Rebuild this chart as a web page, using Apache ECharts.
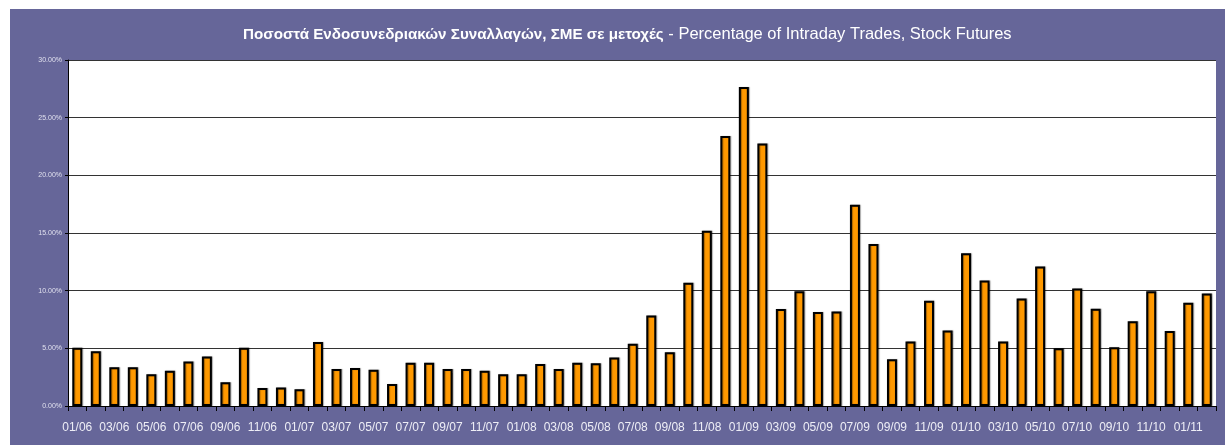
<!DOCTYPE html>
<html><head><meta charset="utf-8">
<script src="https://cdn.jsdelivr.net/npm/echarts@6/dist/echarts.min.js"></script>
<style>html,body{margin:0;padding:0;background:#fff}#c{width:1225px;height:445px}</style>
</head><body><div id="c"></div>
<script>
const categories = [
 "01/06","02/06","03/06","04/06","05/06","06/06","07/06","08/06","09/06","10/06","11/06","12/06",
 "01/07","02/07","03/07","04/07","05/07","06/07","07/07","08/07","09/07","10/07","11/07","12/07",
 "01/08","02/08","03/08","04/08","05/08","06/08","07/08","08/08","09/08","10/08","11/08","12/08",
 "01/09","02/09","03/09","04/09","05/09","06/09","07/09","08/09","09/09","10/09","11/09","12/09",
 "01/10","02/10","03/10","04/10","05/10","06/10","07/10","08/10","09/10","10/10","11/10","12/10",
 "01/11","02/11"
];
const intradayPct = [
 5.05,4.75,3.35,3.35,2.75,3.05,3.85,4.3,2.05,5.05,1.55,1.6,
 1.45,5.55,3.2,3.3,3.15,1.9,3.75,3.75,3.2,3.2,3.05,2.75,
 2.75,3.65,3.2,3.75,3.7,4.2,5.4,7.85,4.65,10.68,15.2,23.4,
 27.65,22.75,8.4,9.95,8.15,8.2,17.45,14.05,4.05,5.6,9.12,6.55,
 13.25,10.88,5.6,9.32,12.1,5.0,10.19,8.43,5.1,7.35,9.95,6.5,
 8.95,9.75
];
const titleGreek = "Ποσοστά Ενδοσυνεδριακών Συναλλαγών, ΣΜΕ σε μετοχές";
const titleEnglish = " - Percentage of Intraday Trades, Stock Futures";

const chart = echarts.init(document.getElementById('c'));
chart.setOption({
  backgroundColor: '#ffffff',
  animation: false,
  graphic: [{
    type: 'rect', z: -10, silent: true,
    shape: { x: 10, y: 9, width: 1215, height: 436 },
    style: { fill: '#666699' }
  }],
  title: {
    text: '{b|' + titleGreek + '}{n|' + titleEnglish + '}',
    left: 238, top: 21,
    textStyle: {
      rich: {
        b: { fontFamily: 'Liberation Sans', fontWeight: 'bold', fontSize: 15.2, color: '#ffffff' },
        n: { fontFamily: 'Liberation Sans', fontWeight: 'normal', fontSize: 16.5, color: '#ffffff' }
      }
    }
  },
  grid: { left: 68, right: 9, top: 60, bottom: 39, backgroundColor: '#ffffff', show: true, borderWidth: 0 },
  xAxis: {
    type: 'category', data: categories,
    axisLine: { lineStyle: { color: '#000', width: 1 } },
    axisTick: { show: true, interval: 0, alignWithLabel: false, length: 5, lineStyle: { color: '#000' } },
    axisLabel: { interval: 1, color: '#eeeef6', fontFamily: 'Liberation Sans', fontSize: 12, margin: 16 }
  },
  yAxis: {
    type: 'value', min: 0, max: 30, interval: 5,
    axisLine: { show: true, lineStyle: { color: '#000', width: 1 } },
    axisTick: { show: true, length: 3, lineStyle: { color: '#000' } },
    axisLabel: { color: '#e0e0ee', fontFamily: 'Liberation Sans', fontSize: 7, margin: 6,
      formatter: v => v.toFixed(2) + '%' },
    splitLine: { show: true, lineStyle: { color: '#333333', width: 1 } }
  },
  series: [{
    type: 'bar', data: intradayPct, barWidth: 10,
    itemStyle: { color: '#ff9900', borderColor: '#000000', borderWidth: 2,
      shadowColor: 'rgba(0,0,0,0.35)', shadowOffsetX: 1, shadowOffsetY: 0, shadowBlur: 1 }
  }]
});
</script></body></html>
